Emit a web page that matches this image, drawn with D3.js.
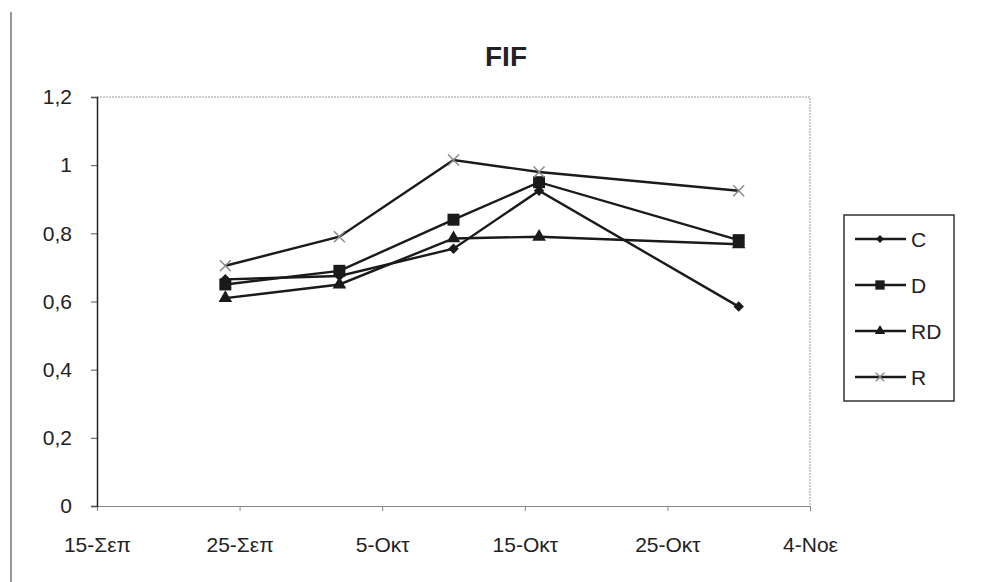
<!DOCTYPE html>
<html>
<head>
  <meta charset="utf-8">
  <script src="https://d3js.org/d3.v7.min.js"></script>
  <style>
    body { margin: 0; background: #fff; font-family: "Liberation Sans", Arial, sans-serif; }
    svg text { fill: #222; }
  </style>
</head>
<body>
<script>
  // sampling dates and the four series
  var dates = ["2003-09-24", "2003-10-02", "2003-10-10", "2003-10-16", "2003-10-30"];
  var seriesNames = ["C", "D", "RD", "R"];
  var valuesC = [0.665, 0.675, 0.755, 0.925, 0.585];
  var valuesD = [0.65, 0.69, 0.84, 0.95, 0.78];
  var valuesRD = [0.61, 0.65, 0.785, 0.79, 0.768];
  var valuesR = [0.705, 0.79, 1.015, 0.98, 0.925];

  // axis ticks
  var tickDates = ["2003-09-15", "2003-09-25", "2003-10-05", "2003-10-15", "2003-10-25", "2003-11-04"];
  var tickLabels = ["15-Σεπ", "25-Σεπ", "5-Οκτ", "15-Οκτ", "25-Οκτ", "4-Νοε"];
  var yTicks = [0, 0.2, 0.4, 0.6, 0.8, 1, 1.2];

  var parse = d3.timeParse("%Y-%m-%d");
  var allValues = [valuesC, valuesD, valuesRD, valuesR];

  var width = 986, height = 582;
  var svg = d3.select("body").append("svg")
      .attr("width", width)
      .attr("height", height);

  var x = d3.scaleTime()
      .domain([parse(tickDates[0]), parse(tickDates[tickDates.length - 1])])
      .range([97, 810]);
  var y = d3.scaleLinear().domain([0, 1.2]).range([506, 97]);

  // outer chart border (left edge only shows in the scan)
  svg.append("line")
      .attr("x1", 11).attr("x2", 11).attr("y1", 12).attr("y2", height)
      .style("stroke", "#777").style("stroke-width", 1.5);

  // title
  svg.append("text")
      .attr("x", 506).attr("y", 66)
      .attr("text-anchor", "middle")
      .style("font-size", "28px")
      .style("font-weight", "bold")
      .text("FIF");

  // plot frame: top and right dotted grey
  svg.append("path")
      .attr("d", "M97,97H810V506")
      .style("fill", "none")
      .style("stroke", "#999")
      .style("stroke-dasharray", "2,1");

  // x axis
  var xAxis = d3.axisBottom(x)
      .tickValues(tickDates.map(parse))
      .tickFormat(function (d, i) { return tickLabels[i]; })
      .tickSize(5)
      .tickPadding(26);
  var gx = svg.append("g")
      .attr("transform", "translate(0,506)")
      .call(xAxis);
  gx.select(".domain").style("stroke", "#888");
  gx.selectAll(".tick line").style("stroke", "#888");
  gx.selectAll("text")
      .style("font-size", "21px")
      .style("font-family", "Liberation Sans, Arial, sans-serif")
      .style("fill", "#222");

  // y axis
  var yAxis = d3.axisLeft(y)
      .tickValues(yTicks)
      .tickFormat(function (d) { return String(d).replace(".", ","); })
      .tickSize(6)
      .tickPadding(19);
  var gy = svg.append("g")
      .attr("transform", "translate(97,0)")
      .call(yAxis);
  gy.select(".domain").style("stroke", "#222").style("stroke-width", 1.5);
  gy.selectAll(".tick line").style("stroke", "#555");
  gy.selectAll("text")
      .style("font-size", "21px")
      .style("font-family", "Liberation Sans, Arial, sans-serif")
      .style("fill", "#222");

  // marker shapes, s scales the size
  function marker(g, name, cx, cy, s) {
    var t = "translate(" + cx + "," + cy + ")";
    if (name === "C") {
      g.append("path")
          .attr("d", d3.symbol(d3.symbolDiamond2, 70 * s)())
          .attr("transform", t)
          .style("fill", "#1a1a1a");
    } else if (name === "D") {
      g.append("path")
          .attr("d", d3.symbol(d3.symbolSquare, 144 * s)())
          .attr("transform", t)
          .style("fill", "#1a1a1a");
    } else if (name === "RD") {
      g.append("path")
          .attr("d", d3.symbol(d3.symbolTriangle, 80 * s)())
          .attr("transform", t)
          .style("fill", "#1a1a1a");
    } else {
      g.append("path")
          .attr("d", d3.symbol(d3.symbolX, 80 * s)())
          .attr("transform", t)
          .style("fill", "none")
          .style("stroke", "#8a8a8a")
          .style("stroke-width", 1.5);
    }
  }

  var line = d3.line()
      .x(function (d, i) { return x(parse(dates[i])); })
      .y(function (d) { return y(d); });

  seriesNames.forEach(function (name, k) {
    var g = svg.append("g").attr("class", "series");
    g.append("path")
        .datum(allValues[k])
        .attr("d", line)
        .style("fill", "none")
        .style("stroke", "#1a1a1a")
        .style("stroke-width", 2.4);
    allValues[k].forEach(function (v, i) {
      marker(g, name, x(parse(dates[i])), y(v), 1);
    });
  });

  // legend
  var legend = svg.append("g");
  legend.append("rect")
      .attr("x", 844).attr("y", 215)
      .attr("width", 110).attr("height", 186)
      .style("fill", "#fff")
      .style("stroke", "#333")
      .style("stroke-width", 1.5);
  seriesNames.forEach(function (name, i) {
    var ly = 239 + i * 46;
    legend.append("line")
        .attr("x1", 855).attr("x2", 906)
        .attr("y1", ly).attr("y2", ly)
        .style("stroke", "#1a1a1a")
        .style("stroke-width", 2.4);
    marker(legend, name, 880, ly, 0.6);
    legend.append("text")
        .attr("x", 911).attr("y", ly)
        .attr("dy", "0.36em")
        .style("font-size", "21px")
        .text(name);
  });
</script>
</body>
</html>
